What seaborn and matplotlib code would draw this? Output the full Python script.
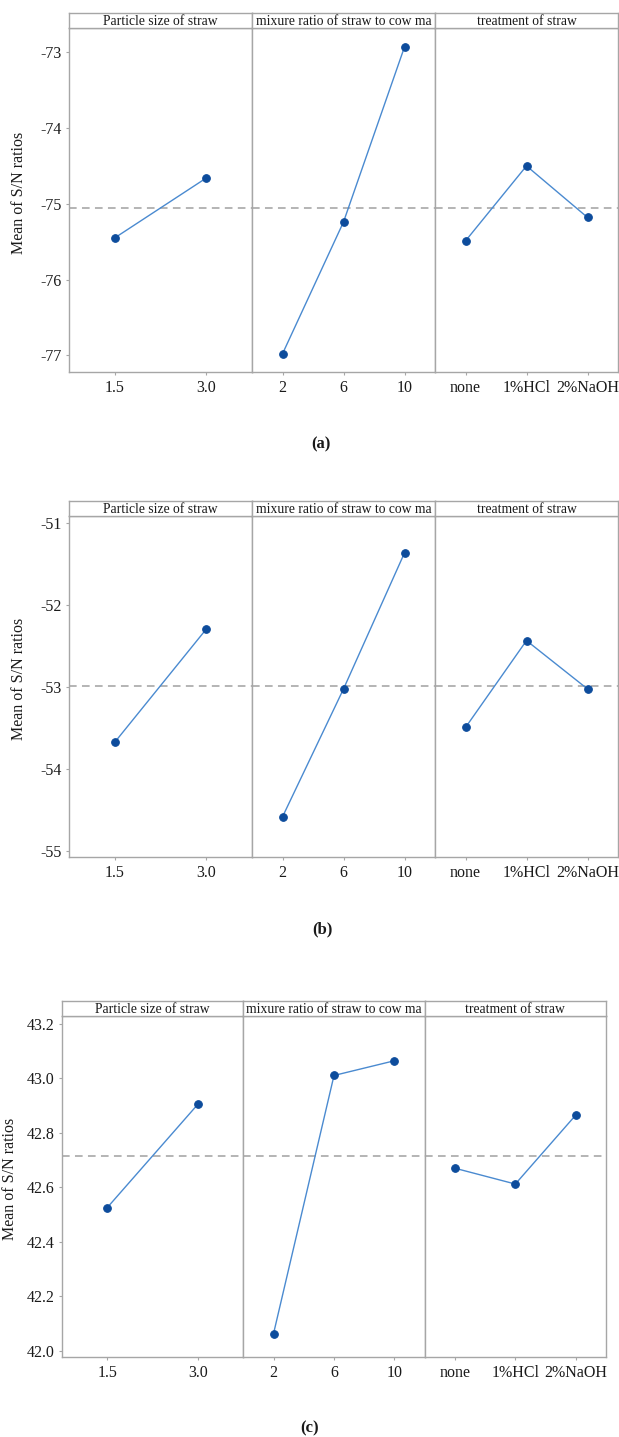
import numpy as np
import pandas as pd
import matplotlib
matplotlib.use("Agg")
import matplotlib.pyplot as plt
import seaborn as sns
from matplotlib.ticker import FormatStrFormatter, FixedLocator

sns.set_style("white")
plt.rcParams["font.family"] = ["Liberation Serif", "DejaVu Serif"]
plt.rcParams["axes.unicode_minus"] = False

# Factors and their levels
factors = ["Particle size of straw", "mixure ratio of straw to cow ma", "treatment of straw"]
size_levels = ["1.5", "3.0"]
ratio_levels = ["2", "6", "10"]
treatment_levels = ["none", "1%HCl", "2%NaOH"]

# Main-effect means of S/N ratios, response (a)
a_size = [-75.45, -74.66]
a_ratio = [-76.98, -75.24, -72.93]
a_treat = [-75.49, -74.50, -75.18]
a_yticks = [-77, -76, -75, -74, -73]

# response (b)
b_size = [-53.67, -52.29]
b_ratio = [-54.58, -53.02, -51.36]
b_treat = [-53.49, -52.43, -53.02]
b_yticks = [-55, -54, -53, -52, -51]

# response (c)
c_size = [42.526, 42.905]
c_ratio = [42.064, 43.010, 43.064]
c_treat = [42.670, 42.612, 42.865]
c_yticks = [42.0, 42.2, 42.4, 42.6, 42.8, 43.0, 43.2]

W, H = 619, 1437
fig = plt.figure(figsize=(W / 100, H / 100), dpi=100)

FRAME = "#a6a6a6"
LINE = "#4a8ad0"
MARK = "#0d4c9c"
MEANC = "#a0a0a0"


def px_axes(x0, y0, x1, y1):
    return fig.add_axes([x0 / W, 1 - y1 / H, (x1 - x0) / W, (y1 - y0) / H])


def draw_panel(series, left, right, strip_top, strip_bot, plot_bot, ylim,
               yticks, yfmt, caption, cap_xy, ylab_x):
    level_sets = [size_levels, ratio_levels, treatment_levels]
    grand_mean = np.mean([np.mean(v) for v in series])
    fw = (right - left) / 3
    for i, (name, levels, vals) in enumerate(zip(factors, level_sets, series)):
        x0 = left + i * fw
        x1 = x0 + fw
        df = pd.DataFrame({"level": levels, "value": vals})
        ax = px_axes(x0, strip_bot, x1, plot_bot)
        sns.pointplot(data=df, x="level", y="value", order=levels, ax=ax,
                      color=LINE, errorbar=None, linewidth=1.0,
                      markersize=5.5, markerfacecolor=MARK,
                      markeredgecolor=MARK, zorder=3)
        ax.axhline(grand_mean, color=MEANC, lw=1.1, ls=(0, (5, 3.5)), zorder=1)
        ax.set_ylim(*ylim)
        ax.set_xlim(-0.5, len(levels) - 0.5)
        ax.set_xlabel("")
        ax.set_ylabel("")
        for sp in ax.spines.values():
            sp.set_color(FRAME)
            sp.set_linewidth(1.0)
        ax.tick_params(axis="x", length=2, width=0.8, color=FRAME, pad=4,
                       labelsize=11.5, labelcolor="#1a1a1a", bottom=True)
        if i == 0:
            ax.yaxis.set_major_locator(FixedLocator(yticks))
            ax.yaxis.set_major_formatter(FormatStrFormatter(yfmt))
            ax.tick_params(axis="y", length=2, width=0.8, color=FRAME, pad=3.5,
                           labelsize=11.5, labelcolor="#1a1a1a", left=True)
        else:
            ax.set_yticks([])
        # facet strip
        sax = px_axes(x0, strip_top, x1, strip_bot)
        sax.set_xticks([])
        sax.set_yticks([])
        for sp in sax.spines.values():
            sp.set_color(FRAME)
            sp.set_linewidth(1.0)
        sax.text(0.5, 0.45, name, ha="center", va="center", fontsize=9.8,
                 color="#1a1a1a", transform=sax.transAxes, clip_on=True)
    fig.text(ylab_x / W, 1 - ((strip_top + plot_bot) / 2) / H,
             "Mean of S/N ratios", rotation=90, ha="center", va="center",
             fontsize=11.5, color="#1a1a1a")
    fig.text(cap_xy[0] / W, 1 - cap_xy[1] / H, caption, ha="center",
             va="center", fontsize=12, fontweight="bold", color="#1a1a1a")


draw_panel([a_size, a_ratio, a_treat], 69, 618, 13, 28, 372,
           (-77.22, -72.68), a_yticks, "%d", "(a)", (321, 444), 19)
draw_panel([b_size, b_ratio, b_treat], 69, 618, 501, 516, 857,
           (-55.07, -50.91), b_yticks, "%d", "(b)", (322, 929), 19)
draw_panel([c_size, c_ratio, c_treat], 62, 606, 1001, 1016, 1357,
           (41.978, 43.228), c_yticks, "%.1f", "(c)", (310, 1428), 10)

fig.savefig("out.png", dpi=100, facecolor="white")
